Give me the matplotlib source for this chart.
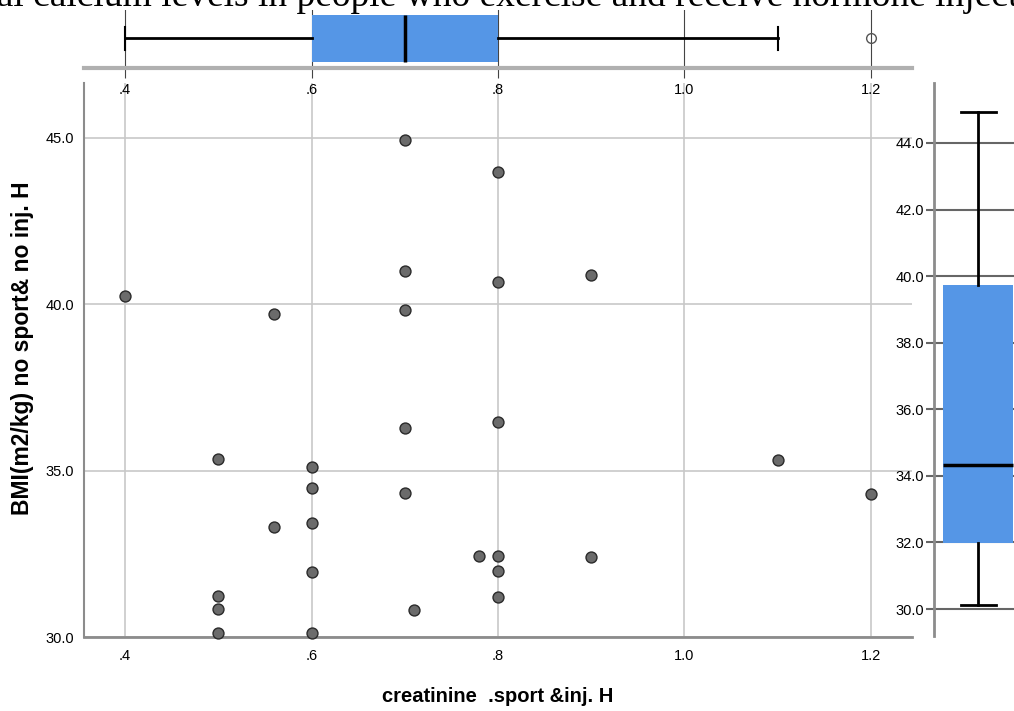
import matplotlib
matplotlib.use("Agg")
import matplotlib.pyplot as plt
from matplotlib import font_manager

# creatinine (x) and BMI (y) values
creatinine = [0.4, 0.56, 0.7, 0.7, 0.7, 0.8, 0.8,
              0.5, 0.6, 0.6, 0.6, 0.56, 0.6, 0.5, 0.5, 0.5, 0.6,
              0.7, 0.7, 0.71, 0.78, 0.8, 0.8, 0.8, 0.8,
              0.9, 0.9, 1.1, 1.2]
bmi = [40.25, 39.72, 44.94, 40.99, 39.84, 43.97, 40.66,
       35.35, 35.11, 34.49, 33.44, 33.31, 31.95, 31.23, 30.83, 30.11, 30.11,
       36.27, 34.34, 30.81, 32.44, 36.45, 32.44, 31.98, 31.2,
       40.87, 32.41, 35.31, 34.3]

x_ticks = [0.4, 0.6, 0.8, 1.0, 1.2]
x_labels = ['.4', '.6', '.8', '1.0', '1.2']
y_ticks = [30, 35, 40, 45]
y_labels = ['30.0', '35.0', '40.0', '45.0']
box_y_ticks = [30, 32, 34, 36, 38, 40, 42, 44]
box_y_labels = ['30.0', '32.0', '34.0', '36.0', '38.0', '40.0', '42.0', '44.0']

W, H = 1014, 711
box_blue = '#5596e6'

# the original is horizontally squeezed, a narrow face comes closest
installed = {f.name for f in font_manager.fontManager.ttflist}
if 'Liberation Sans Narrow' in installed:
    tick_font, tick_size = 'Liberation Sans Narrow', 12
    xlab_font, xlab_size = 'Liberation Sans Narrow', 17.5
else:
    tick_font, tick_size = 'Liberation Sans', 10.5
    xlab_font, xlab_size = 'Liberation Sans', 14.5

fig = plt.figure(figsize=(W / 100, H / 100), dpi=100)

def frac(x0, y0, x1, y1):
    return [x0 / W, 1 - y1 / H, (x1 - x0) / W, (y1 - y0) / H]

# main scatter
ax = fig.add_axes(frac(84, 83, 912, 637))
ax.scatter(creatinine, bmi, s=62, facecolor='#6b6b6b', edgecolor='#2a2a2a',
           linewidth=1.0, zorder=3, clip_on=False)
ax.set_xlim(0.356, 1.244)
ax.set_ylim(30, 46.65)
ax.set_xticks(x_ticks)
ax.set_xticklabels(x_labels, family=tick_font, fontsize=tick_size)
ax.set_yticks(y_ticks)
ax.set_yticklabels(y_labels, family=tick_font, fontsize=tick_size)
ax.tick_params(axis='both', length=0)
ax.tick_params(axis='x', pad=9)
ax.tick_params(axis='y', pad=7)
ax.grid(True, color='#c8c8c8', linewidth=1.2)
ax.set_axisbelow(True)
for side in ['top', 'right']:
    ax.spines[side].set_visible(False)
ax.spines['left'].set_color('#8c8c8c')
ax.spines['left'].set_linewidth(1.5)
ax.spines['bottom'].set_color('#8c8c8c')
ax.spines['bottom'].set_linewidth(2)
ax.set_xlabel('creatinine  .sport &inj. H', fontsize=xlab_size, fontweight='bold',
              family=xlab_font)
ax.xaxis.set_label_coords(0.5, -(697 - 637) / (637 - 83))
ax.xaxis.label.set_va('center')
ax.set_ylabel('BMI(m2/kg) no sport& no inj. H', fontsize=16.5, fontweight='bold',
              family='Liberation Sans')
ax.yaxis.set_label_coords(-(84 - 22) / (912 - 84), (637 - 348) / (637 - 83))
ax.yaxis.label.set_va('center')

# top boxplot of creatinine
axt = fig.add_axes(frac(84, 10, 912, 68))
axt.boxplot([creatinine], orientation='horizontal', widths=0.81, patch_artist=True,
            boxprops=dict(facecolor=box_blue, edgecolor='none'),
            medianprops=dict(color='black', linewidth=2.5),
            whiskerprops=dict(color='black', linewidth=2),
            capprops=dict(color='black', linewidth=1.5),
            flierprops=dict(marker='o', markersize=7, markerfacecolor='none',
                            markeredgecolor='#555555', markeredgewidth=1))
axt.set_xlim(0.356, 1.244)
axt.set_ylim(0.49, 1.49)
axt.set_xticks(x_ticks)
axt.set_xticklabels(x_labels, family=tick_font, fontsize=tick_size)
axt.set_yticks([])
axt.tick_params(axis='x', length=7, color='#444444', width=0.8, pad=4)
axt.grid(True, axis='x', color='#444444', linewidth=0.8)
axt.set_axisbelow(True)
for side in ['top', 'right', 'left']:
    axt.spines[side].set_visible(False)
axt.spines['bottom'].set_color('#b0b0b0')
axt.spines['bottom'].set_linewidth(3)
axt.patch.set_alpha(0)

# right boxplot of BMI
axr = fig.add_axes(frac(934, 83, 1094, 636))
axr.boxplot([bmi], widths=0.4375, patch_artist=True,
            boxprops=dict(facecolor=box_blue, edgecolor='none'),
            medianprops=dict(color='black', linewidth=2.5),
            whiskerprops=dict(color='black', linewidth=2),
            capprops=dict(color='black', linewidth=2),
            flierprops=dict(marker='o', markerfacecolor='none'))
axr.set_xlim(0.725, 1.725)
axr.set_ylim(29.19, 45.8)
axr.set_xticks([])
axr.set_yticks(box_y_ticks)
axr.set_yticklabels(box_y_labels, family=tick_font, fontsize=tick_size)
axr.tick_params(axis='y', length=6, color='#666666', width=1.5, pad=1)
axr.grid(True, axis='y', color='#666666', linewidth=1.5)
axr.set_axisbelow(True)
for side in ['top', 'right', 'bottom']:
    axr.spines[side].set_visible(False)
axr.spines['left'].set_color('#8c8c8c')
axr.spines['left'].set_linewidth(2)

# title cut off at the top of the picture
fig.text(-22 / W, 1 - 6 / H,
         'nal calcium levels in people who exercise and receive hormone injecti',
         family='Liberation Serif', fontsize=27, ha='left', va='baseline')

fig.savefig('out.png', dpi=100)
